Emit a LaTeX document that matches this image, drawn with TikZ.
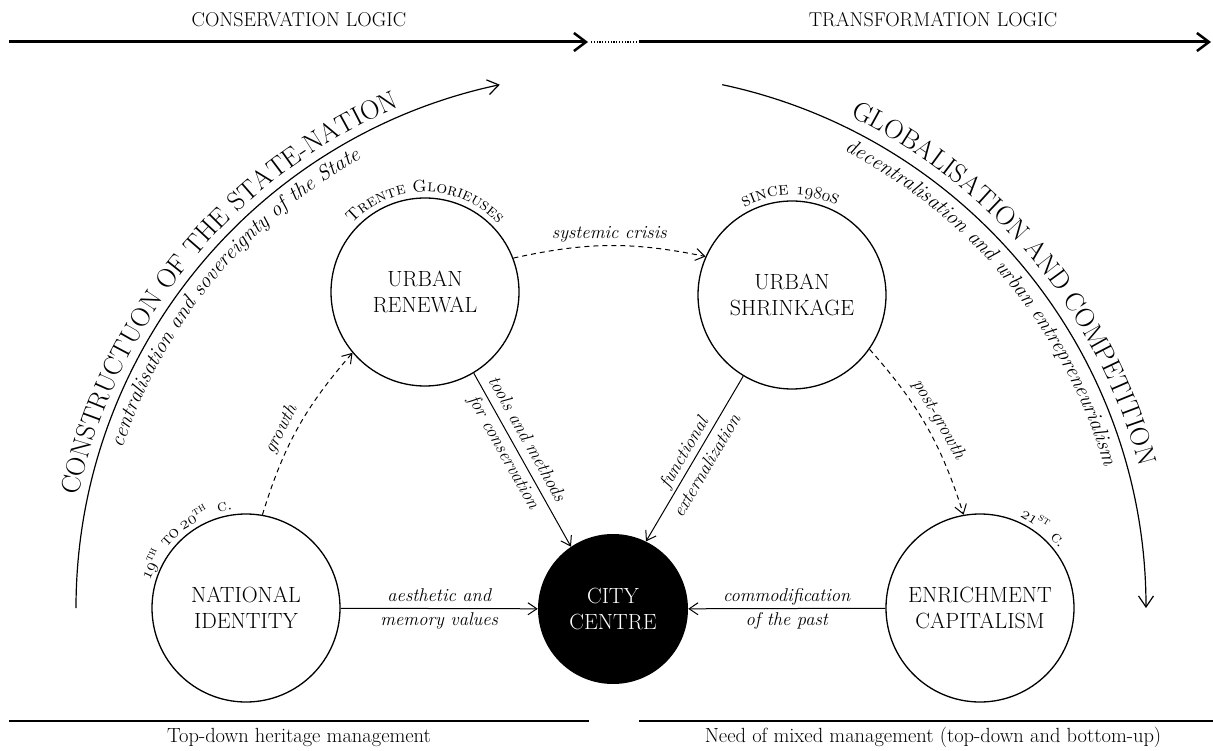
\documentclass[tikz,border=0pt]{standalone}
\usepackage{fontspec}
\newfontfamily\scfont{lmromancaps10-regular.otf}
\usetikzlibrary{arrows.meta,decorations.text}
\newcommand\osn[1]{{\usefont{OML}{cmm}{m}{it}#1}}
\begin{document}
\begin{tikzpicture}[x=1pt,y=1pt,
  circ/.style={circle,draw,line width=1.3pt,minimum size=188pt,inner sep=0pt,align=center,font=\fontsize{22}{26}\selectfont},
  ccirc/.style={circle,fill=black,minimum size=150pt,inner sep=0pt,align=center,text=white,font=\fontsize{22}{26}\selectfont},
  conn/.style={line width=1pt,-{Straight Barb[length=9pt,width=12pt]}},
  dconn/.style={conn,dash pattern=on 5pt off 4pt},
  lab/.style={font=\itshape\fontsize{18.5}{24}\selectfont,align=center,inner sep=0pt},
  slab/.style={font=\itshape\fontsize{18.5}{26.5}\selectfont,align=center,inner sep=0pt},
  toplab/.style={font=\fontsize{20}{20}\selectfont,anchor=base},
  botlab/.style={font=\fontsize{20.5}{22}\selectfont,anchor=base},
  thick line/.style={line width=3pt},
  botline/.style={line width=2.5pt},
  bigarc/.style={line width=1.2pt,-{Straight Barb[length=11pt,width=15pt]}},
  clab/.style={font=\scfont\fontsize{16.5}{16.5}\selectfont,inner sep=0pt,anchor=base},
]
\useasboundingbox (0,0) rectangle (1213,-751);

% top logic arrows
\coordinate (tl) at (9,-42);
\coordinate (tm1) at (588,-42);
\coordinate (tm2) at (639,-42);
\coordinate (tr) at (1211,-42);
\coordinate (dl) at (591,-42);
\draw[thick line,-{Straight Barb[length=12pt,width=18pt,line width=2.5pt]}] (tl) -- (tm1);
\draw[line width=2.5pt,dash pattern=on 1.2pt off 1.6pt] (dl) -- (tm2);
\draw[thick line,-{Straight Barb[length=12pt,width=18pt,line width=2.5pt]}] (tm2) -- (tr);
\node[toplab] (cl) at (299,-27) {CONSERVATION LOGIC};
\node[toplab] (trl) at (933,-27) {TRANSFORMATION LOGIC};

% bottom management lines
\coordinate (bl1) at (9,-721);
\coordinate (bl2) at (589,-721);
\coordinate (br1) at (639,-721);
\coordinate (br2) at (1213,-721);
\draw[botline] (bl1) -- (bl2);
\draw[botline] (br1) -- (br2);
\node[botlab] (bll) at (299,-742) {Top-down heritage management};
\node[botlab] (brl) at (933,-742) {Need of mixed management (top-down and bottom-up)};

% big arcs
\coordinate (O) at (611,-608);
\draw[bigarc] ([shift={(180:535pt)}]O) arc[start angle=180,end angle=102,radius=535pt];
\draw[bigarc] ([shift={(78:535pt)}]O) arc[start angle=78,end angle=0,radius=535pt];
\path[decorate,decoration={text along path,text align=center,
  text={|\fontsize{26.8}{27}\selectfont|CONSTRUCTUON OF THE STATE-NATION}}]
  ([shift={(175.5:544pt)}]O) arc[start angle=175.5,end angle=105.5,radius=544pt];
\path[decorate,decoration={text along path,text align=center,
  text={|\itshape\fontsize{21.2}{21}\selectfont|centralisation and sovereignty of the State}}]
  ([shift={(175.5:514pt)}]O) arc[start angle=175.5,end angle=105.5,radius=514pt];
\path[decorate,decoration={text along path,text align=center,
  text={|\fontsize{26.8}{27}\selectfont|GLOBALISATION AND COMPETITION}}]
  ([shift={(74.5:547pt)}]O) arc[start angle=74.5,end angle=4.5,radius=547pt];
\path[decorate,decoration={text along path,text align=center,
  text={|\itshape\fontsize{21.2}{21}\selectfont|decentralisation and urban entrepreneurialism}}]
  ([shift={(74.5:513pt)}]O) arc[start angle=74.5,end angle=4.5,radius=513pt];

% circles
\node[circ] (NI) at (246,-608) {NATIONAL\\IDENTITY};
\node[circ] (UR) at (425,-292) {URBAN\\RENEWAL};
\node[circ] (US) at (792,-295) {URBAN\\SHRINKAGE};
\node[circ] (EC) at (980,-608) {ENRICHMENT\\CAPITALISM};
\node[ccirc] (CC) at (613,-609) {CITY\\CENTRE};

% circle period labels
\path[decorate,decoration={text along path,text align=center,
  text={|\scfont\fontsize{17}{17}\selectfont|Trente Glorieuses}}]
  ([shift={(150:100pt)}]UR.center) arc[start angle=150,end angle=30,radius=100pt];
\path[decorate,decoration={text along path,text align=center,
  text={|\scfont\fontsize{18.5}{18}\selectfont|since |\fontsize{18.5}{18}\usefont{OML}{cmm}{m}{it}|1980|\scfont\fontsize{18.5}{18}\selectfont|s}}]
  ([shift={(151:100pt)}]US.center) arc[start angle=151,end angle=31,radius=100pt];
\node[clab,rotate=65] (n19) at ([shift={(155:99pt)}]NI.center) {\osn{19}\textsuperscript{th}};
\node[clab,rotate=47] (nto) at ([shift={(137:99pt)}]NI.center) {to};
\node[clab,rotate=30] (n20) at ([shift={(120:99pt)}]NI.center) {\osn{20}\textsuperscript{th}};
\node[clab,rotate=12] (nc) at ([shift={(102:99pt)}]NI.center) {c.};
\node[clab,rotate=-32] (n21) at ([shift={(58:99pt)}]EC.center) {\osn{21}\textsuperscript{st}};
\node[clab,rotate=-49] (nc2) at ([shift={(41:99pt)}]EC.center) {c.};

% connectors
\draw[conn] (NI) -- node[lab]{aesthetic and\\memory values} (CC);
\draw[conn] (EC) -- node[lab]{commodification\\of the past} (CC);
\draw[conn] (UR.-59) -- node[slab,sloped,pos=0.42]{tools and methods\\for conservation} (CC.124);
\draw[conn] (US.239) -- node[slab,sloped,pos=0.5]{functional\\externalization} (CC.64);
\draw[dconn] (NI.80) to[bend left=12] node[lab,sloped,above=5pt,pos=0.45]{growth} (UR.220);
\draw[dconn] (UR.21) to[bend left=12] node[lab,above=3pt]{systemic crisis} (US.156);
\draw[dconn] (US.-35) to[bend left=12] node[lab,sloped,above=5pt]{post-growth} (EC.100);
\end{tikzpicture}
\end{document}
